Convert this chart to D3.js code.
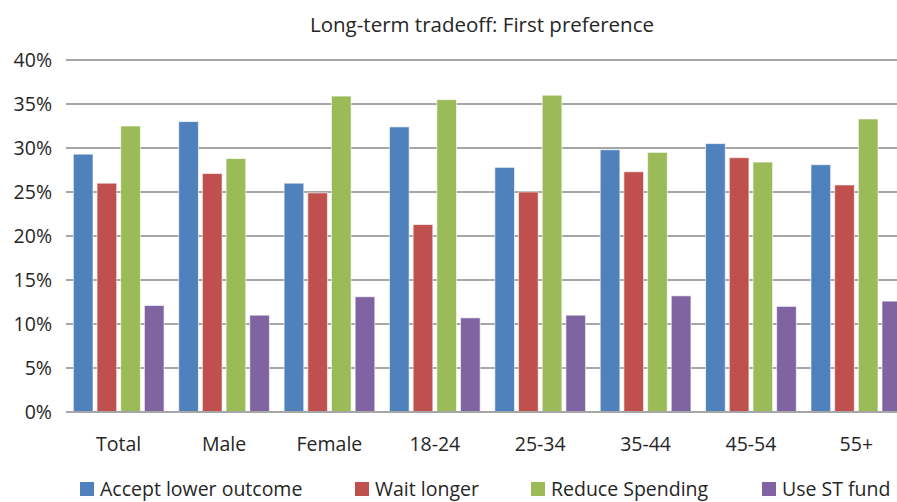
<!DOCTYPE html>
<html><head><meta charset="utf-8">
<script src="https://cdn.jsdelivr.net/npm/d3@7"></script>
<style>
html,body{margin:0;padding:0;background:#fff;}
text{font-family:"Open Sans","Lato",sans-serif;fill:#262626;}
</style></head>
<body><svg id="chart" width="897" height="502"></svg>
<script>
const categories = ["Total","Male","Female","18-24","25-34","35-44","45-54","55+"];
const seriesNames = ["Accept lower outcome","Wait longer","Reduce Spending","Use ST fund"];
const acceptLower = [29.3, 33.0, 26.0, 32.4, 27.8, 29.8, 30.5, 28.1];
const waitLonger  = [26.0, 27.1, 24.9, 21.3, 25.0, 27.3, 28.9, 25.8];
const reduceSpending = [32.5, 28.8, 35.9, 35.5, 36.0, 29.5, 28.4, 33.3];
const useSTFund   = [12.1, 11.0, 13.1, 10.7, 11.0, 13.2, 12.0, 12.6];
const yTicks = [0,5,10,15,20,25,30,35,40];
const colors = ["#4F81BD","#C0504D","#9BBB59","#8064A2"];
const title = "Long-term tradeoff: First preference";

const seriesValues = [acceptLower, waitLonger, reduceSpending, useSTFund];
const svg = d3.select("#chart");
const mLeft = 66, mRight = 909, mTop = 60, mBottom = 412;

const x0 = d3.scaleBand().domain(categories).range([mLeft, mRight]).padding(0);
const x1 = d3.scaleBand().domain(seriesNames).range([7.35, 98.05]).paddingInner(0.17).paddingOuter(0);
const y = d3.scaleLinear().domain([0,40]).range([mBottom, mTop]);

// gridlines
svg.append("g").selectAll("line").data(yTicks).join("line")
  .attr("x1", mLeft).attr("x2", 897)
  .attr("y1", d => y(d)).attr("y2", d => y(d))
  .attr("stroke", "#a6a6a6").attr("stroke-width", 2);

// y tick labels
const yAxis = d3.axisLeft(y).tickValues(yTicks).tickFormat(d => d + "%").tickSize(0).tickPadding(14);
const ya = svg.append("g").attr("transform", `translate(${mLeft},0)`).call(yAxis);
ya.select(".domain").remove();
ya.selectAll("text").style("font-size","19.5px").attr("fill","#262626").style("font-family",'"Open Sans",sans-serif');

// bars
const groups = svg.append("g").selectAll("g").data(categories).join("g")
  .attr("transform", d => `translate(${x0(d)},0)`);
groups.selectAll("rect")
  .data((c, ci) => seriesNames.map((s, si) => ({s, si, v: seriesValues[si][ci]})))
  .join("rect")
  .attr("x", d => x1(d.s))
  .attr("width", x1.bandwidth())
  .attr("y", d => y(d.v))
  .attr("height", d => y(0) - y(d.v))
  .attr("fill", d => colors[d.si])
  .attr("stroke", "#ffffff").attr("stroke-opacity", 0.6).attr("stroke-width", 1);

// baseline
svg.append("line").attr("x1", mLeft).attr("x2", 897).attr("y1", y(0)).attr("y2", y(0))
  .attr("stroke","#a6a6a6").attr("stroke-width",2);

// x labels
const xAxis = d3.axisBottom(x0).tickSize(0).tickPadding(25);
const xa = svg.append("g").attr("transform", `translate(0,${mBottom})`).call(xAxis);
xa.select(".domain").remove();
xa.selectAll("text").style("font-size","19.5px").attr("fill","#262626").style("font-family",'"Open Sans",sans-serif');

// title
svg.append("text").attr("x", 482).attr("y", 32).attr("text-anchor","middle")
  .style("font-size","20.5px").text(title);

// legend
const legendX = [80, 355, 531, 762];
const lg = svg.append("g").selectAll("g").data(seriesNames).join("g")
  .attr("transform", (d,i) => `translate(${legendX[i]},482)`);
lg.append("rect").attr("width", 14).attr("height", 14).attr("fill", (d,i) => colors[i]);
lg.append("text").attr("x", 20).attr("y", 14).style("font-size","19.5px").text(d => d);
</script></body></html>
